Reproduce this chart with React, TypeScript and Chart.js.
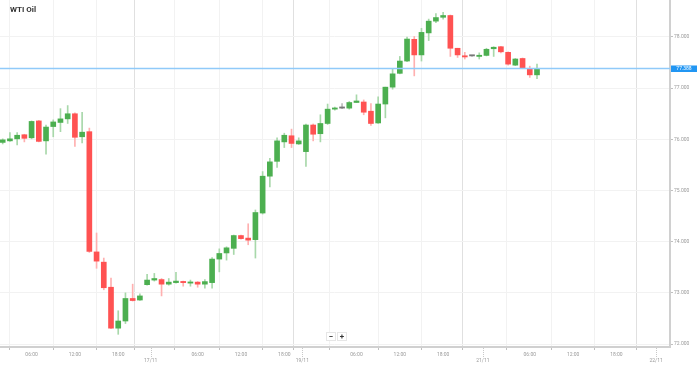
import React, { useEffect, useRef } from 'react';
import { Chart, registerables } from 'chart.js';

Chart.register(...registerables);

const TITLE = 'WTI Oil';

const OPEN = [75.94, 75.97, 76.01, 76.09, 76.03, 76.36, 75.97, 76.25, 76.33, 76.40, 76.50, 76.05, 76.15, 73.80, 73.60, 73.11, 72.31, 72.45, 72.89, 72.86, 73.16, 73.25, 73.26, 73.17, 73.20, 73.22, 73.19, 73.21, 73.17, 73.20, 73.66, 73.78, 73.87, 74.12, 74.07, 74.04, 74.56, 75.28, 75.57, 75.95, 76.07, 75.91, 75.76, 76.28, 76.11, 76.31, 76.59, 76.61, 76.61, 76.72, 76.73, 76.55, 76.32, 76.69, 77.02, 77.29, 77.53, 77.955, 77.65, 78.08, 78.31, 78.385, 78.42, 77.78, 77.62, 77.63, 77.62, 77.64, 77.77, 77.81, 77.70, 77.45, 77.58, 77.375, 77.26];
const HIGH = [76.01, 76.13, 76.13, 76.10, 76.36, 76.37, 76.28, 76.38, 76.60, 76.66, 76.52, 76.53, 76.22, 74.17, 73.68, 73.29, 72.65, 73.00, 73.17, 72.98, 73.36, 73.38, 73.28, 73.28, 73.40, 73.23, 73.25, 73.22, 73.26, 73.69, 73.86, 73.90, 74.13, 74.13, 74.35, 74.62, 75.37, 75.63, 76.03, 76.12, 76.20, 76.03, 76.30, 76.30, 76.48, 76.69, 76.63, 76.70, 76.74, 76.87, 76.77, 76.70, 76.83, 77.02, 77.37, 77.62, 78.00, 78.01, 78.17, 78.35, 78.46, 78.48, 78.43, 77.78, 77.70, 77.64, 77.69, 77.78, 77.81, 77.82, 77.71, 77.58, 77.59, 77.43, 77.47];
const LOW = [75.91, 75.96, 75.89, 75.95, 76.01, 75.95, 75.71, 76.05, 76.15, 76.31, 75.86, 75.93, 73.79, 73.48, 73.06, 72.30, 72.19, 72.40, 72.84, 72.85, 73.15, 73.23, 72.94, 73.15, 73.19, 73.13, 73.13, 73.11, 73.09, 73.09, 73.41, 73.64, 73.75, 74.05, 73.94, 73.68, 74.54, 75.07, 75.45, 75.84, 75.84, 75.90, 75.47, 75.97, 75.95, 76.29, 76.57, 76.60, 76.59, 76.72, 76.48, 76.27, 76.31, 76.42, 76.98, 77.28, 77.52, 77.24, 77.53, 77.93, 78.28, 78.35, 77.62, 77.60, 77.57, 77.62, 77.57, 77.63, 77.62, 77.69, 77.45, 77.44, 77.38, 77.21, 77.185];
const CLOSE = [75.99, 76.01, 76.08, 76.02, 76.35, 75.96, 76.24, 76.34, 76.40, 76.50, 76.04, 76.14, 73.81, 73.62, 73.10, 72.31, 72.45, 72.89, 72.85, 72.94, 73.25, 73.28, 73.17, 73.21, 73.23, 73.20, 73.21, 73.17, 73.22, 73.66, 73.77, 73.88, 74.12, 74.06, 74.03, 74.57, 75.28, 75.56, 75.97, 76.08, 75.92, 75.97, 76.28, 76.10, 76.31, 76.59, 76.61, 76.61, 76.72, 76.75, 76.53, 76.31, 76.69, 77.02, 77.28, 77.53, 77.96, 77.65, 78.09, 78.31, 78.38, 78.42, 77.78, 77.65, 77.61, 77.63, 77.63, 77.76, 77.80, 77.71, 77.47, 77.57, 77.39, 77.26, 77.388];

const X_TICKS = [4, 10, 16, 20.5, 27, 33, 39, 41.5, 49, 55, 61, 66.5, 73, 79, 85, 90.5];
const X_LABELS = ['06:00', '12:00', '18:00', '17/11', '06:00', '12:00', '18:00', '19/11', '06:00', '12:00', '18:00', '21/11', '06:00', '12:00', '18:00', '22/11'];
const Y_TICKS = [72, 73, 74, 75, 76, 77, 78];
const Y_MIN = 71.942;
const Y_MAX = 78.723;
const X_MIN = -0.374;
const X_MAX = 92.42;
const LAST_PRICE = 77.388;

const GREEN = '#4caf50';
const RED = '#ff5252';
const GREY = '#777777';
const GREEN_WICK = '#a8d8aa';
const RED_WICK = '#ffb0b0';
const GREY_WICK = '#bbbbbb';

const isDate = (i: number) => X_LABELS[i] && X_LABELS[i].includes('/');

function colorFor(i: number, up: string, down: string, flat: string) {
  if (CLOSE[i] > OPEN[i]) return up;
  if (CLOSE[i] < OPEN[i]) return down;
  return flat;
}

const priceLinePlugin = {
  id: 'priceLine',
  afterDatasetsDraw(chart: any) {
    const { ctx, chartArea, scales } = chart;
    const y = Math.round(scales.y.getPixelForValue(LAST_PRICE)) + 0.5;
    ctx.save();
    ctx.strokeStyle = '#90caf9';
    ctx.lineWidth = 1.5;
    ctx.beginPath();
    ctx.moveTo(chartArea.left, y);
    ctx.lineTo(chartArea.right, y);
    ctx.stroke();
    ctx.fillStyle = '#2196f3';
    ctx.fillRect(chartArea.right + 1, y - 3, 26, 6.5);
    ctx.fillStyle = '#ffffff';
    ctx.font = '5px Roboto, sans-serif';
    ctx.textAlign = 'center';
    ctx.textBaseline = 'middle';
    ctx.fillText(LAST_PRICE.toFixed(3), chartArea.right + 14, y + 0.3);
    ctx.restore();
  },
  afterDraw(chart: any) {
    const { ctx, chartArea, scales } = chart;
    ctx.save();
    ctx.strokeStyle = '#c8c8c8';
    ctx.lineWidth = 1;
    ctx.setLineDash([1, 1]);
    X_TICKS.forEach((v, i) => {
      if (!isDate(i)) return;
      const x = Math.round(scales.x.getPixelForValue(v)) + 0.5;
      ctx.beginPath();
      ctx.moveTo(x, chartArea.bottom + 1);
      ctx.lineTo(x, chartArea.bottom + 11);
      ctx.stroke();
    });
    ctx.restore();
  },
};

export default function App() {
  const ref = useRef<HTMLCanvasElement>(null);

  useEffect(() => {
    if (!ref.current) return;
    Chart.defaults.font.family = 'Roboto, "Open Sans", sans-serif';
    const idx = OPEN.map((_, i) => i);
    const chart = new Chart(ref.current, {
      type: 'bar',
      data: {
        datasets: [
          {
            label: 'body',
            data: idx.map((i) => ({ x: i, y: [Math.min(OPEN[i], CLOSE[i]), Math.max(OPEN[i], CLOSE[i])] })) as any,
            backgroundColor: idx.map((i) => colorFor(i, GREEN, RED, GREY)),
            barThickness: 5,
            minBarLength: 1.2,
            grouped: false,
            order: 1,
          } as any,
          {
            label: 'wick',
            data: idx.map((i) => ({ x: i, y: [LOW[i], HIGH[i]] })) as any,
            backgroundColor: idx.map((i) => colorFor(i, GREEN_WICK, RED_WICK, GREY_WICK)),
            barThickness: 1,
            grouped: false,
            order: 2,
          } as any,
        ],
      },
      options: {
        animation: false,
        responsive: true,
        maintainAspectRatio: false,
        layout: { padding: 0 },
        plugins: {
          legend: { display: false },
          tooltip: { enabled: false },
          title: { display: false },
        },
        scales: {
          x: {
            type: 'linear',
            min: X_MIN,
            max: X_MAX,
            offset: false,
            afterBuildTicks: (scale: any) => {
              scale.ticks = X_TICKS.map((v) => ({ value: v }));
            },
            afterFit: (scale: any) => {
              scale.height = 19;
              scale.paddingLeft = 0;
              scale.paddingRight = 0;
            },
            ticks: {
              autoSkip: false,
              maxRotation: 0,
              minRotation: 0,
              padding: 2,
              color: '#9a9a9a',
              font: { size: 5 },
              callback: (_v: any, i: number) => (isDate(i) ? ['', X_LABELS[i]] : X_LABELS[i]),
            },
            grid: {
              color: (ctx: any) => (ctx.index !== undefined && isDate(ctx.index) ? '#e0e0e0' : '#f2f2f2'),
              tickColor: '#c0c0c0',
              tickLength: 3,
              lineWidth: 1,
            },
            border: { color: '#d0d0d0', width: 2 },
          },
          y: {
            type: 'linear',
            position: 'right',
            min: Y_MIN,
            max: Y_MAX,
            afterBuildTicks: (scale: any) => {
              scale.ticks = Y_TICKS.map((v) => ({ value: v }));
            },
            afterFit: (scale: any) => {
              scale.width = 28;
              scale.paddingTop = 0;
              scale.paddingBottom = 0;
            },
            ticks: {
              padding: 1,
              color: '#9a9a9a',
              font: { size: 5 },
              callback: (v: any) => Number(v).toFixed(3),
            },
            grid: {
              color: '#f2f2f2',
              tickColor: '#c0c0c0',
              tickLength: 3,
            },
            border: { color: '#d0d0d0', width: 2 },
          },
        },
      } as any,
      plugins: [priceLinePlugin],
    });
    return () => chart.destroy();
  }, []);

  const btn: React.CSSProperties = {
    width: 10,
    height: 9,
    border: '1px solid #e6e6e6',
    background: '#fff',
    fontSize: 8,
    lineHeight: '8px',
    textAlign: 'center',
    color: '#333',
    fontFamily: 'Roboto, sans-serif',
    fontWeight: 700,
    boxSizing: 'border-box',
  };

  return (
    <div style={{ position: 'absolute', left: 0, top: 0, width: 698, height: 366, background: '#fff', overflow: 'hidden' }}>
      <canvas ref={ref} />
      <div
        style={{
          position: 'absolute',
          left: 10,
          top: 5,
          fontFamily: 'Roboto, sans-serif',
          fontWeight: 700,
          fontSize: 8,
          color: '#333',
        }}
      >
        {TITLE}
      </div>
      <div style={{ position: 'absolute', left: 326, top: 332, display: 'flex', gap: 1 }}>
        <div style={btn}>−</div>
        <div style={btn}>+</div>
      </div>
    </div>
  );
}
